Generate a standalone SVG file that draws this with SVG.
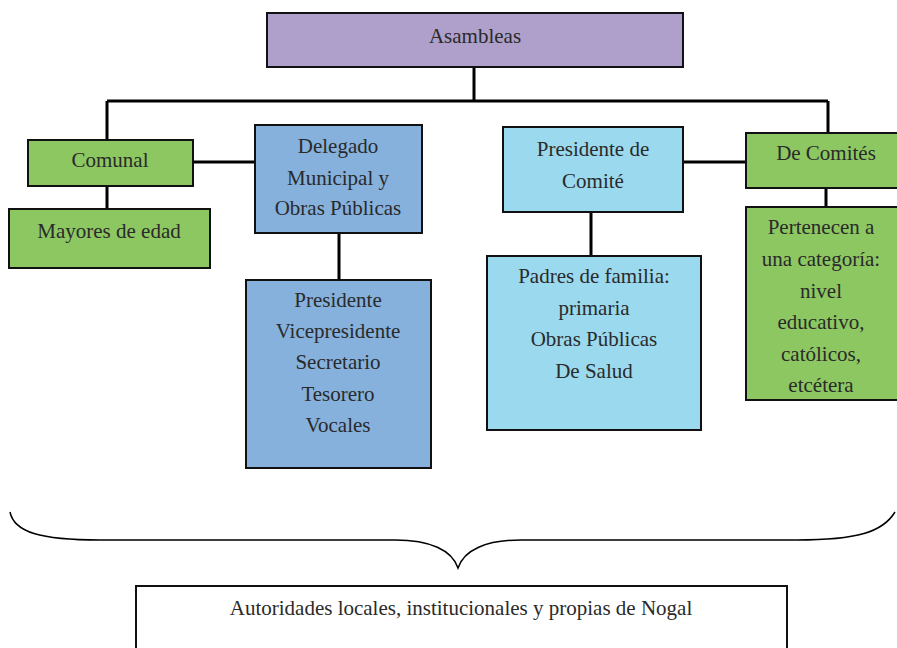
<svg xmlns="http://www.w3.org/2000/svg" width="897" height="648" viewBox="0 0 897 648">
<style>
.box{stroke:#111;stroke-width:2}
.purple{fill:#ae9fcb}
.green{fill:#8dc762}
.blue{fill:#85b1dc}
.lblue{fill:#9bd9ee}
.white{fill:#fff}
text{font-family:"Liberation Serif","Times New Roman",serif;font-size:21px;fill:#2a2a2a;text-anchor:middle}
.conn{stroke:#000;stroke-width:3;fill:none}
</style>
<rect width="897" height="648" fill="#fff"/>
<g id="connectors">
<path class="conn" d="M474 67V101M107 101H828M107 101V140M828 101V133"/>
<path class="conn" d="M193 162H255M107 186V209M339 233V280"/>
<path class="conn" d="M683 162H746M591 212V256M826 188V207"/>
<path d="M10 512C14 532 40 540 100 540H395C430 540 452 550 458 568C464 550 486 540 521 540H797C857 540 883 532 895 512" fill="none" stroke="#000" stroke-width="1.5"/>
</g>
<g id="asambleas"><rect class="box purple" x="267" y="13" width="416" height="54"/><text x="475" y="43">Asambleas</text></g>
<g id="comunal"><rect class="box green" x="28" y="140" width="165" height="46"/><text x="110" y="167">Comunal</text></g>
<g id="mayores"><rect class="box green" x="9" y="209" width="201" height="59"/><text x="109" y="238">Mayores de edad</text></g>
<g id="delegado"><rect class="box blue" x="255" y="125" width="167" height="108"/><text x="338" y="153">Delegado</text><text x="338" y="185">Municipal y</text><text x="338" y="215">Obras Públicas</text></g>
<g id="cargos"><rect class="box blue" x="246" y="280" width="185" height="188"/><text x="338" y="307">Presidente</text><text x="338" y="338">Vicepresidente</text><text x="338" y="369">Secretario</text><text x="338" y="401">Tesorero</text><text x="338" y="432">Vocales</text></g>
<g id="presidente-comite"><rect class="box lblue" x="503" y="127" width="180" height="85"/><text x="593" y="156">Presidente de</text><text x="593" y="188">Comité</text></g>
<g id="padres"><rect class="box lblue" x="487" y="256" width="214" height="174"/><text x="594" y="283">Padres de familia:</text><text x="594" y="315">primaria</text><text x="594" y="346">Obras Públicas</text><text x="594" y="378">De Salud</text></g>
<g id="de-comites"><rect class="box green" x="746" y="133" width="160" height="55"/><text x="826" y="160">De Comités</text></g>
<g id="pertenecen"><rect class="box green" x="746" y="207" width="160" height="193"/><text x="821" y="234">Pertenecen a</text><text x="821" y="266">una categoría:</text><text x="821" y="298">nivel</text><text x="821" y="329">educativo,</text><text x="821" y="361">católicos,</text><text x="821" y="392">etcétera</text></g>
<g id="autoridades"><rect class="box white" x="136" y="586" width="651" height="70"/><text x="461" y="615">Autoridades locales, institucionales y propias de Nogal</text></g>
</svg>
